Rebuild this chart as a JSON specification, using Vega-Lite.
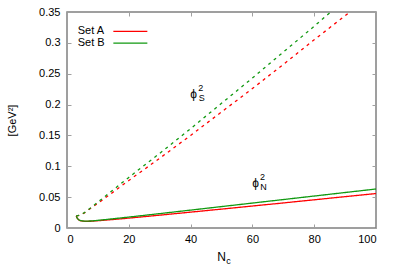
{
  "$schema": "https://vega.github.io/schema/vega-lite/v6.json",
  "autosize": "none",
  "width": 309,
  "height": 216,
  "padding": {"left": 67, "top": 12, "right": 23, "bottom": 51},
  "background": "white",
  "config": {
    "view": {"stroke": "#808080", "strokeWidth": 1.5},
    "font": "Liberation Sans",
    "axis": {"grid": false, "domain": false, "tickColor": "#a0a0a0", "tickSize": -4, "tickWidth": 1, "labelFontSize": 11, "labelColor": "black", "titleFontWeight": "normal", "titleColor": "black"},
    "text": {"font": "Liberation Sans"}
  },
  "datasets": {
    "curves": [
      {"set": "Set A", "kind": "N", "Nc": 3.0, "v": 0.0195},
      {"set": "Set A", "kind": "N", "Nc": 3.3, "v": 0.0160},
      {"set": "Set A", "kind": "N", "Nc": 3.7, "v": 0.0135},
      {"set": "Set A", "kind": "N", "Nc": 4.2, "v": 0.0120},
      {"set": "Set A", "kind": "N", "Nc": 5, "v": 0.0112},
      {"set": "Set A", "kind": "N", "Nc": 6, "v": 0.0108},
      {"set": "Set A", "kind": "N", "Nc": 8, "v": 0.0110},
      {"set": "Set A", "kind": "N", "Nc": 10, "v": 0.0118},
      {"set": "Set A", "kind": "N", "Nc": 15, "v": 0.0138},
      {"set": "Set A", "kind": "N", "Nc": 20, "v": 0.0160},
      {"set": "Set A", "kind": "N", "Nc": 30, "v": 0.0208},
      {"set": "Set A", "kind": "N", "Nc": 40, "v": 0.0257},
      {"set": "Set A", "kind": "N", "Nc": 50, "v": 0.0306},
      {"set": "Set A", "kind": "N", "Nc": 60, "v": 0.0356},
      {"set": "Set A", "kind": "N", "Nc": 70, "v": 0.0406},
      {"set": "Set A", "kind": "N", "Nc": 80, "v": 0.0457},
      {"set": "Set A", "kind": "N", "Nc": 90, "v": 0.0508},
      {"set": "Set A", "kind": "N", "Nc": 100, "v": 0.0558},
      {"set": "Set B", "kind": "N", "Nc": 3.0, "v": 0.0195},
      {"set": "Set B", "kind": "N", "Nc": 3.3, "v": 0.0160},
      {"set": "Set B", "kind": "N", "Nc": 3.7, "v": 0.0137},
      {"set": "Set B", "kind": "N", "Nc": 4.2, "v": 0.0122},
      {"set": "Set B", "kind": "N", "Nc": 5, "v": 0.0114},
      {"set": "Set B", "kind": "N", "Nc": 6, "v": 0.0111},
      {"set": "Set B", "kind": "N", "Nc": 8, "v": 0.0114},
      {"set": "Set B", "kind": "N", "Nc": 10, "v": 0.0124},
      {"set": "Set B", "kind": "N", "Nc": 15, "v": 0.0150},
      {"set": "Set B", "kind": "N", "Nc": 20, "v": 0.0177},
      {"set": "Set B", "kind": "N", "Nc": 30, "v": 0.0233},
      {"set": "Set B", "kind": "N", "Nc": 40, "v": 0.0290},
      {"set": "Set B", "kind": "N", "Nc": 50, "v": 0.0347},
      {"set": "Set B", "kind": "N", "Nc": 60, "v": 0.0404},
      {"set": "Set B", "kind": "N", "Nc": 70, "v": 0.0461},
      {"set": "Set B", "kind": "N", "Nc": 80, "v": 0.0518},
      {"set": "Set B", "kind": "N", "Nc": 90, "v": 0.0575},
      {"set": "Set B", "kind": "N", "Nc": 100, "v": 0.0632},
      {"set": "Set A", "kind": "S", "Nc": 3.0, "v": 0.0195},
      {"set": "Set A", "kind": "S", "Nc": 4, "v": 0.0205},
      {"set": "Set A", "kind": "S", "Nc": 5.5, "v": 0.0240},
      {"set": "Set A", "kind": "S", "Nc": 8, "v": 0.0330},
      {"set": "Set A", "kind": "S", "Nc": 10, "v": 0.0400},
      {"set": "Set A", "kind": "S", "Nc": 20, "v": 0.0770},
      {"set": "Set A", "kind": "S", "Nc": 30, "v": 0.1130},
      {"set": "Set A", "kind": "S", "Nc": 40, "v": 0.1500},
      {"set": "Set A", "kind": "S", "Nc": 50, "v": 0.1880},
      {"set": "Set A", "kind": "S", "Nc": 60, "v": 0.2260},
      {"set": "Set A", "kind": "S", "Nc": 70, "v": 0.2650},
      {"set": "Set A", "kind": "S", "Nc": 80, "v": 0.3050},
      {"set": "Set A", "kind": "S", "Nc": 90, "v": 0.3440},
      {"set": "Set A", "kind": "S", "Nc": 100, "v": 0.3840},
      {"set": "Set B", "kind": "S", "Nc": 3.0, "v": 0.0195},
      {"set": "Set B", "kind": "S", "Nc": 4, "v": 0.0207},
      {"set": "Set B", "kind": "S", "Nc": 5.5, "v": 0.0245},
      {"set": "Set B", "kind": "S", "Nc": 8, "v": 0.0340},
      {"set": "Set B", "kind": "S", "Nc": 10, "v": 0.0420},
      {"set": "Set B", "kind": "S", "Nc": 20, "v": 0.0820},
      {"set": "Set B", "kind": "S", "Nc": 30, "v": 0.1210},
      {"set": "Set B", "kind": "S", "Nc": 40, "v": 0.1610},
      {"set": "Set B", "kind": "S", "Nc": 50, "v": 0.2020},
      {"set": "Set B", "kind": "S", "Nc": 60, "v": 0.2430},
      {"set": "Set B", "kind": "S", "Nc": 70, "v": 0.2850},
      {"set": "Set B", "kind": "S", "Nc": 80, "v": 0.3270},
      {"set": "Set B", "kind": "S", "Nc": 90, "v": 0.3700},
      {"set": "Set B", "kind": "S", "Nc": 100, "v": 0.4130}
    ],
    "base": [
      {"t": "ϕ", "Nc": 41.0, "v": 0.217},
      {"t": "ϕ", "Nc": 61.0, "v": 0.073}
    ],
    "sup": [
      {"t": "2", "Nc": 41.0, "v": 0.217},
      {"t": "2", "Nc": 61.0, "v": 0.073}
    ],
    "sub": [
      {"t": "S", "Nc": 41.0, "v": 0.217},
      {"t": "N", "Nc": 61.0, "v": 0.073}
    ],
    "xtitle": [
      {"t": "N", "Nc": 50, "v": 0}
    ],
    "xsub": [
      {"t": "c", "Nc": 50, "v": 0}
    ]
  },
  "resolve": {"axis": {"x": "independent", "y": "independent"}},
  "layer": [
    {
      "data": {"name": "curves"},
      "mark": {"type": "line", "strokeWidth": 1.3, "clip": true},
      "encoding": {
        "x": {"field": "Nc", "type": "quantitative", "scale": {"domain": [0, 100], "nice": false},
              "axis": {"orient": "bottom", "values": [0, 20, 40, 60, 80, 100], "title": null, "labelPadding": 9}},
        "y": {"field": "v", "type": "quantitative", "scale": {"domain": [0, 0.35], "nice": false},
              "axis": {"orient": "left", "values": [0, 0.05, 0.1, 0.15, 0.2, 0.25, 0.3, 0.35], "format": "~g", "title": "[GeV²]", "titleFontSize": 11, "titlePadding": 21, "labelPadding": 11}},
        "color": {"field": "set", "type": "nominal",
                  "scale": {"domain": ["Set A", "Set B"], "range": ["#ff0000", "#119911"]},
                  "legend": {"title": null, "orient": "none", "legendX": -5.3, "legendY": 13.4, "symbolType": "M 9.13,0 H 15.93", "symbolSize": 100, "symbolStrokeWidth": 1.3, "rowPadding": 0.7, "labelOffset": 4, "labelFontSize": 11, "labelColor": "black", "padding": 0}},
        "strokeDash": {"field": "kind", "type": "nominal", "scale": {"domain": ["N", "S"], "range": [[1, 0], [3, 4]]}, "legend": null},
        "detail": {"field": "kind"}
      }
    },
    {
      "data": {"name": "curves"},
      "mark": {"type": "line", "opacity": 0},
      "encoding": {
        "x": {"field": "Nc", "type": "quantitative", "axis": {"orient": "top", "values": [0, 20, 40, 60, 80, 100], "labels": false, "title": null}},
        "y": {"field": "v", "type": "quantitative", "axis": {"orient": "right", "values": [0, 0.05, 0.1, 0.15, 0.2, 0.25, 0.3, 0.35], "labels": false, "title": null}}
      }
    },
    {
      "data": {"name": "base"},
      "mark": {"type": "text", "fontSize": 12, "clip": false},
      "encoding": {
        "x": {"field": "Nc", "type": "quantitative", "axis": null},
        "y": {"field": "v", "type": "quantitative", "axis": null},
        "text": {"field": "t"}
      }
    },
    {
      "data": {"name": "sup"},
      "mark": {"type": "text", "fontSize": 9, "dx": 7, "dy": -6, "clip": false},
      "encoding": {
        "x": {"field": "Nc", "type": "quantitative", "axis": null},
        "y": {"field": "v", "type": "quantitative", "axis": null},
        "text": {"field": "t"}
      }
    },
    {
      "data": {"name": "sub"},
      "mark": {"type": "text", "fontSize": 9, "dx": 8, "dy": 4, "clip": false},
      "encoding": {
        "x": {"field": "Nc", "type": "quantitative", "axis": null},
        "y": {"field": "v", "type": "quantitative", "axis": null},
        "text": {"field": "t"}
      }
    },
    {
      "data": {"name": "xtitle"},
      "mark": {"type": "text", "fontSize": 12, "dy": 29, "clip": false},
      "encoding": {
        "x": {"field": "Nc", "type": "quantitative", "axis": null},
        "y": {"field": "v", "type": "quantitative", "axis": null},
        "text": {"field": "t"}
      }
    },
    {
      "data": {"name": "xsub"},
      "mark": {"type": "text", "fontSize": 9, "dx": 7, "dy": 33, "clip": false},
      "encoding": {
        "x": {"field": "Nc", "type": "quantitative", "axis": null},
        "y": {"field": "v", "type": "quantitative", "axis": null},
        "text": {"field": "t"}
      }
    }
  ]
}
